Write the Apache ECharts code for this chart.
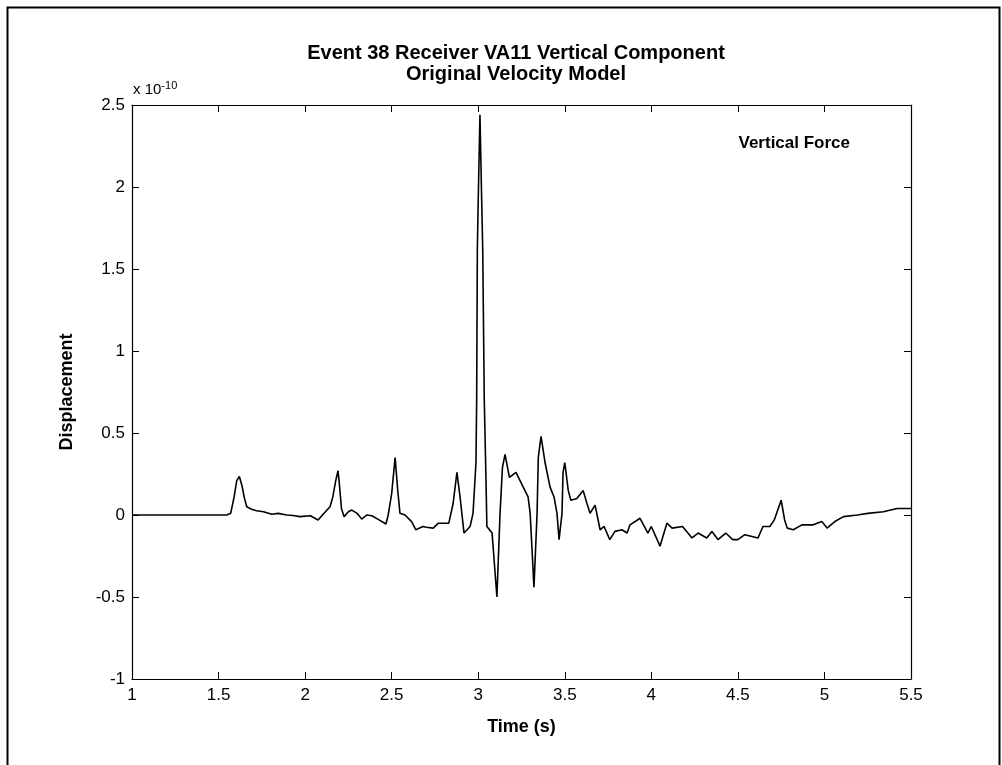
<!DOCTYPE html>
<html>
<head>
<meta charset="utf-8">
<script src="https://cdn.jsdelivr.net/npm/echarts@6/dist/echarts.min.js"></script>
<style>
html,body{margin:0;padding:0;background:#fff;}
#chart{width:1002px;height:765px;}
</style>
</head>
<body>
<div id="chart"></div>
<script>
// Time (s)
const times = [
  1.0, 1.2, 1.4, 1.547, 1.57, 1.59, 1.605, 1.62, 1.635, 1.65, 1.663, 1.69, 1.72, 1.76, 1.807, 1.845,
  1.894, 1.93, 1.97, 2.03, 2.075, 2.10, 2.144, 2.16, 2.177, 2.19, 2.197, 2.21, 2.225, 2.25, 2.27,
  2.30, 2.327, 2.356, 2.385, 2.42, 2.467, 2.48, 2.50, 2.52, 2.535, 2.548, 2.577, 2.615, 2.64, 2.68,
  2.70, 2.74, 2.77, 2.83, 2.855, 2.877, 2.895, 2.918, 2.953, 2.97, 2.987, 2.991, 2.995, 3.0, 3.010,
  3.02, 3.026, 3.035, 3.045, 3.05, 3.08, 3.108, 3.126, 3.14, 3.155, 3.18, 3.218, 3.26, 3.288, 3.30,
  3.322, 3.34, 3.347, 3.363, 3.386, 3.415, 3.438, 3.455, 3.467, 3.484, 3.49, 3.50, 3.52, 3.535, 3.57,
  3.606, 3.628, 3.646, 3.675, 3.704, 3.727, 3.76, 3.79, 3.83, 3.86, 3.877, 3.935, 3.98, 4.0, 4.05,
  4.09, 4.12, 4.18, 4.235, 4.27, 4.32, 4.35, 4.385, 4.43, 4.47, 4.50, 4.54, 4.616, 4.645, 4.685,
  4.71, 4.75, 4.77, 4.785, 4.82, 4.87, 4.935, 4.985, 5.015, 5.06, 5.11, 5.19, 5.25, 5.34, 5.42, 5.5
];
// Displacement (x 10^-10)
const displacement = [
  0, 0, 0, 0, 0.01, 0.11, 0.21, 0.235, 0.18, 0.10, 0.05, 0.035, 0.026, 0.02, 0.005, 0.01,
  0.0, -0.003, -0.01, -0.005, -0.03, 0, 0.05, 0.11, 0.21, 0.27, 0.20, 0.04, -0.01, 0.02, 0.03,
  0.01, -0.025, 0.0, -0.005, -0.025, -0.055, 0, 0.13, 0.35, 0.15, 0.01, 0.0, -0.04, -0.09, -0.07,
  -0.075, -0.08, -0.05, -0.05, 0.07, 0.26, 0.11, -0.11, -0.07, 0.01, 0.32, 0.70, 1.62, 1.92, 2.44,
  1.92, 1.62, 0.70, 0.21, -0.07, -0.11, -0.50, 0.01, 0.29, 0.37, 0.23, 0.26, 0.17, 0.11, 0.01,
  -0.44, 0.01, 0.35, 0.48, 0.32, 0.17, 0.11, 0.01, -0.15, 0.01, 0.26, 0.32, 0.15, 0.09, 0.10,
  0.15, 0.07, 0.01, 0.06, -0.09, -0.07, -0.15, -0.10, -0.09, -0.11, -0.06, -0.02, -0.11, -0.07, -0.19,
  -0.05, -0.08, -0.07, -0.14, -0.11, -0.14, -0.10, -0.15, -0.11, -0.15, -0.15, -0.12, -0.14, -0.07, -0.07,
  -0.03, 0.09, -0.03, -0.08, -0.09, -0.06, -0.06, -0.04, -0.08, -0.04, -0.01, 0.0, 0.01, 0.02, 0.04, 0.04
];
const xTicks = [1, 1.5, 2, 2.5, 3, 3.5, 4, 4.5, 5, 5.5];
const yTicks = [-1, -0.5, 0, 0.5, 1, 1.5, 2, 2.5];
const titleLines = ['Event 38 Receiver VA11 Vertical Component', 'Original Velocity Model'];
const xLabel = 'Time (s)';
const yLabel = 'Displacement';
const legendText = 'Vertical Force';

const FONT = '"Liberation Sans", Arial, Helvetica, sans-serif';
const chart = echarts.init(document.getElementById('chart'), null, {renderer: 'canvas'});
const data = times.map((t, i) => [t, displacement[i]]);

const tickStyle = {show: true, inside: true, length: 7, lineStyle: {color: '#000', width: 1}};
const lineStyle = {show: true, onZero: false, lineStyle: {color: '#000', width: 1.2}};

chart.setOption({
  animation: false,
  backgroundColor: '#fff',
  grid: {left: 132, right: 91, top: 105, bottom: 86, containLabel: false},
  xAxis: [{
    type: 'value', position: 'bottom', min: xTicks[0], max: xTicks[xTicks.length - 1], interval: 0.5,
    axisLine: lineStyle, axisTick: tickStyle, splitLine: {show: false},
    axisLabel: {color: '#000', fontSize: 17, fontFamily: FONT, margin: 8},
    name: xLabel, nameLocation: 'middle', nameGap: 39,
    nameTextStyle: {color: '#000', fontSize: 18, fontWeight: 'bold', fontFamily: FONT}
  }, {
    type: 'value', position: 'top', min: xTicks[0], max: xTicks[xTicks.length - 1], interval: 0.5,
    axisLine: lineStyle, axisTick: tickStyle, splitLine: {show: false}, axisLabel: {show: false}
  }],
  yAxis: [{
    type: 'value', position: 'left', min: yTicks[0], max: yTicks[yTicks.length - 1], interval: 0.5,
    axisLine: lineStyle, axisTick: tickStyle, splitLine: {show: false},
    axisLabel: {color: '#000', fontSize: 17, fontFamily: FONT, margin: 7},
    name: yLabel, nameLocation: 'middle', nameGap: 56, nameRotate: 90,
    nameTextStyle: {color: '#000', fontSize: 18, fontWeight: 'bold', fontFamily: FONT}
  }, {
    type: 'value', position: 'right', min: yTicks[0], max: yTicks[yTicks.length - 1], interval: 0.5,
    axisLine: lineStyle, axisTick: tickStyle, splitLine: {show: false}, axisLabel: {show: false}
  }],
  series: [{
    type: 'line', name: legendText, data: data, showSymbol: false, symbol: 'none',
    lineStyle: {color: '#000', width: 1.6}, z: 3
  }],
  graphic: [
    {type: 'rect', left: 5, top: 5, shape: {width: 992, height: 770}, style: {fill: 'none', stroke: '#000', lineWidth: 2}, silent: true},
    {type: 'text', x: 516, y: 53, style: {text: titleLines[0], fill: '#000', font: 'bold 20px ' + FONT, textAlign: 'center', textVerticalAlign: 'middle'}},
    {type: 'text', x: 516, y: 74, style: {text: titleLines[1], fill: '#000', font: 'bold 20px ' + FONT, textAlign: 'center', textVerticalAlign: 'middle'}},
    {type: 'text', x: 850, y: 143, style: {text: legendText, fill: '#000', font: 'bold 17px ' + FONT, textAlign: 'right', textVerticalAlign: 'middle'}},
    {type: 'text', x: 133, y: 100, style: {
      text: '{a|x 10}{b|-10}', textVerticalAlign: 'bottom',
      rich: {a: {fontSize: 15, fontFamily: FONT, color: '#000'}, b: {fontSize: 11, fontFamily: FONT, color: '#000', verticalAlign: 'top', padding: [0, 0, 9, 0]}}
    }}
  ]
});
</script>
</body>
</html>
